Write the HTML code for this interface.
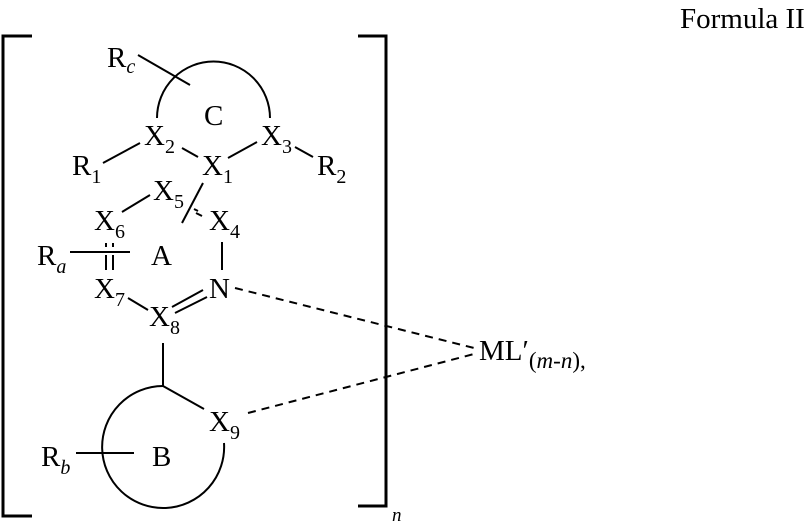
<!DOCTYPE html>
<html><head><meta charset="utf-8"><style>
html,body{margin:0;padding:0;background:#fff;}
svg{display:block;font-family:"Liberation Serif",serif;}
</style></head><body>
<svg width="805" height="521" viewBox="0 0 805 521" xmlns="http://www.w3.org/2000/svg">
<g stroke="#000" stroke-width="2" fill="none">
<polyline points="32,36 3,36 3,516 32,516" stroke-width="3"/>
<polyline points="358,36 386,36 386,506 358,506" stroke-width="3"/>
<path d="M157,118 A56,56 0 0 1 270,118"/>
<line x1="138" y1="55" x2="190" y2="85"/>
<line x1="103" y1="163" x2="140" y2="143"/>
<line x1="182" y1="148" x2="198" y2="157"/>
<line x1="228" y1="158" x2="257" y2="142"/>
<line x1="295" y1="147" x2="313" y2="157"/>
<line x1="122" y1="212" x2="150" y2="195"/>
<line x1="203" y1="183" x2="182" y2="223"/>
<line x1="194" y1="209" x2="198" y2="211"/>
<line x1="196" y1="213" x2="202" y2="216"/>
<line x1="222" y1="242" x2="222" y2="270"/>
<line x1="70" y1="252" x2="130" y2="252"/>
<line x1="106" y1="243" x2="106" y2="247"/>
<line x1="113" y1="243" x2="113" y2="247"/>
<line x1="106" y1="255" x2="106" y2="270"/>
<line x1="113" y1="255" x2="113" y2="270"/>
<line x1="128" y1="298" x2="148" y2="310"/>
<line x1="172" y1="307" x2="203" y2="290"/>
<line x1="175" y1="313" x2="207" y2="297"/>
<line x1="163" y1="343" x2="163" y2="386"/>
<line x1="163" y1="386" x2="204" y2="409"/>
<path d="M163,386 A61,61 0 1 0 224,443"/>
<line x1="76" y1="453" x2="134" y2="453"/>
<line x1="235" y1="288" x2="474" y2="348" stroke-dasharray="8,6"/>
<line x1="248" y1="413" x2="474" y2="354" stroke-dasharray="8,6"/>
</g>
<g font-size="29" fill="#000">
<text x="680" y="28">Formula II</text>
<text x="107" y="67">R<tspan font-size="20" font-style="italic" dy="6">c</tspan></text>
<text x="204" y="125">C</text>
<text x="144" y="145">X<tspan font-size="20" dy="8">2</tspan></text>
<text x="261" y="145">X<tspan font-size="20" dy="8">3</tspan></text>
<text x="202" y="175">X<tspan font-size="20" dy="8">1</tspan></text>
<text x="72" y="175">R<tspan font-size="20" dy="8">1</tspan></text>
<text x="317" y="175">R<tspan font-size="20" dy="8">2</tspan></text>
<text x="153" y="200">X<tspan font-size="20" dy="8">5</tspan></text>
<text x="94" y="230">X<tspan font-size="20" dy="8">6</tspan></text>
<text x="209" y="230">X<tspan font-size="20" dy="8">4</tspan></text>
<text x="151" y="265">A</text>
<text x="37" y="265">R<tspan font-size="20" font-style="italic" dy="8">a</tspan></text>
<text x="94" y="298">X<tspan font-size="20" dy="8">7</tspan></text>
<text x="209" y="298">N</text>
<text x="149" y="326">X<tspan font-size="20" dy="8">8</tspan></text>
<text x="209" y="431">X<tspan font-size="20" dy="8">9</tspan></text>
<text x="41" y="466">R<tspan font-size="20" font-style="italic" dy="8">b</tspan></text>
<text x="152" y="466">B</text>
<text x="479" y="360">ML′<tspan font-size="23" dy="8">(<tspan font-style="italic">m</tspan>-<tspan font-style="italic">n</tspan>),</tspan></text>
<text x="392" y="521" font-size="19" font-style="italic">n</text>
</g>
</svg>
</body></html>
